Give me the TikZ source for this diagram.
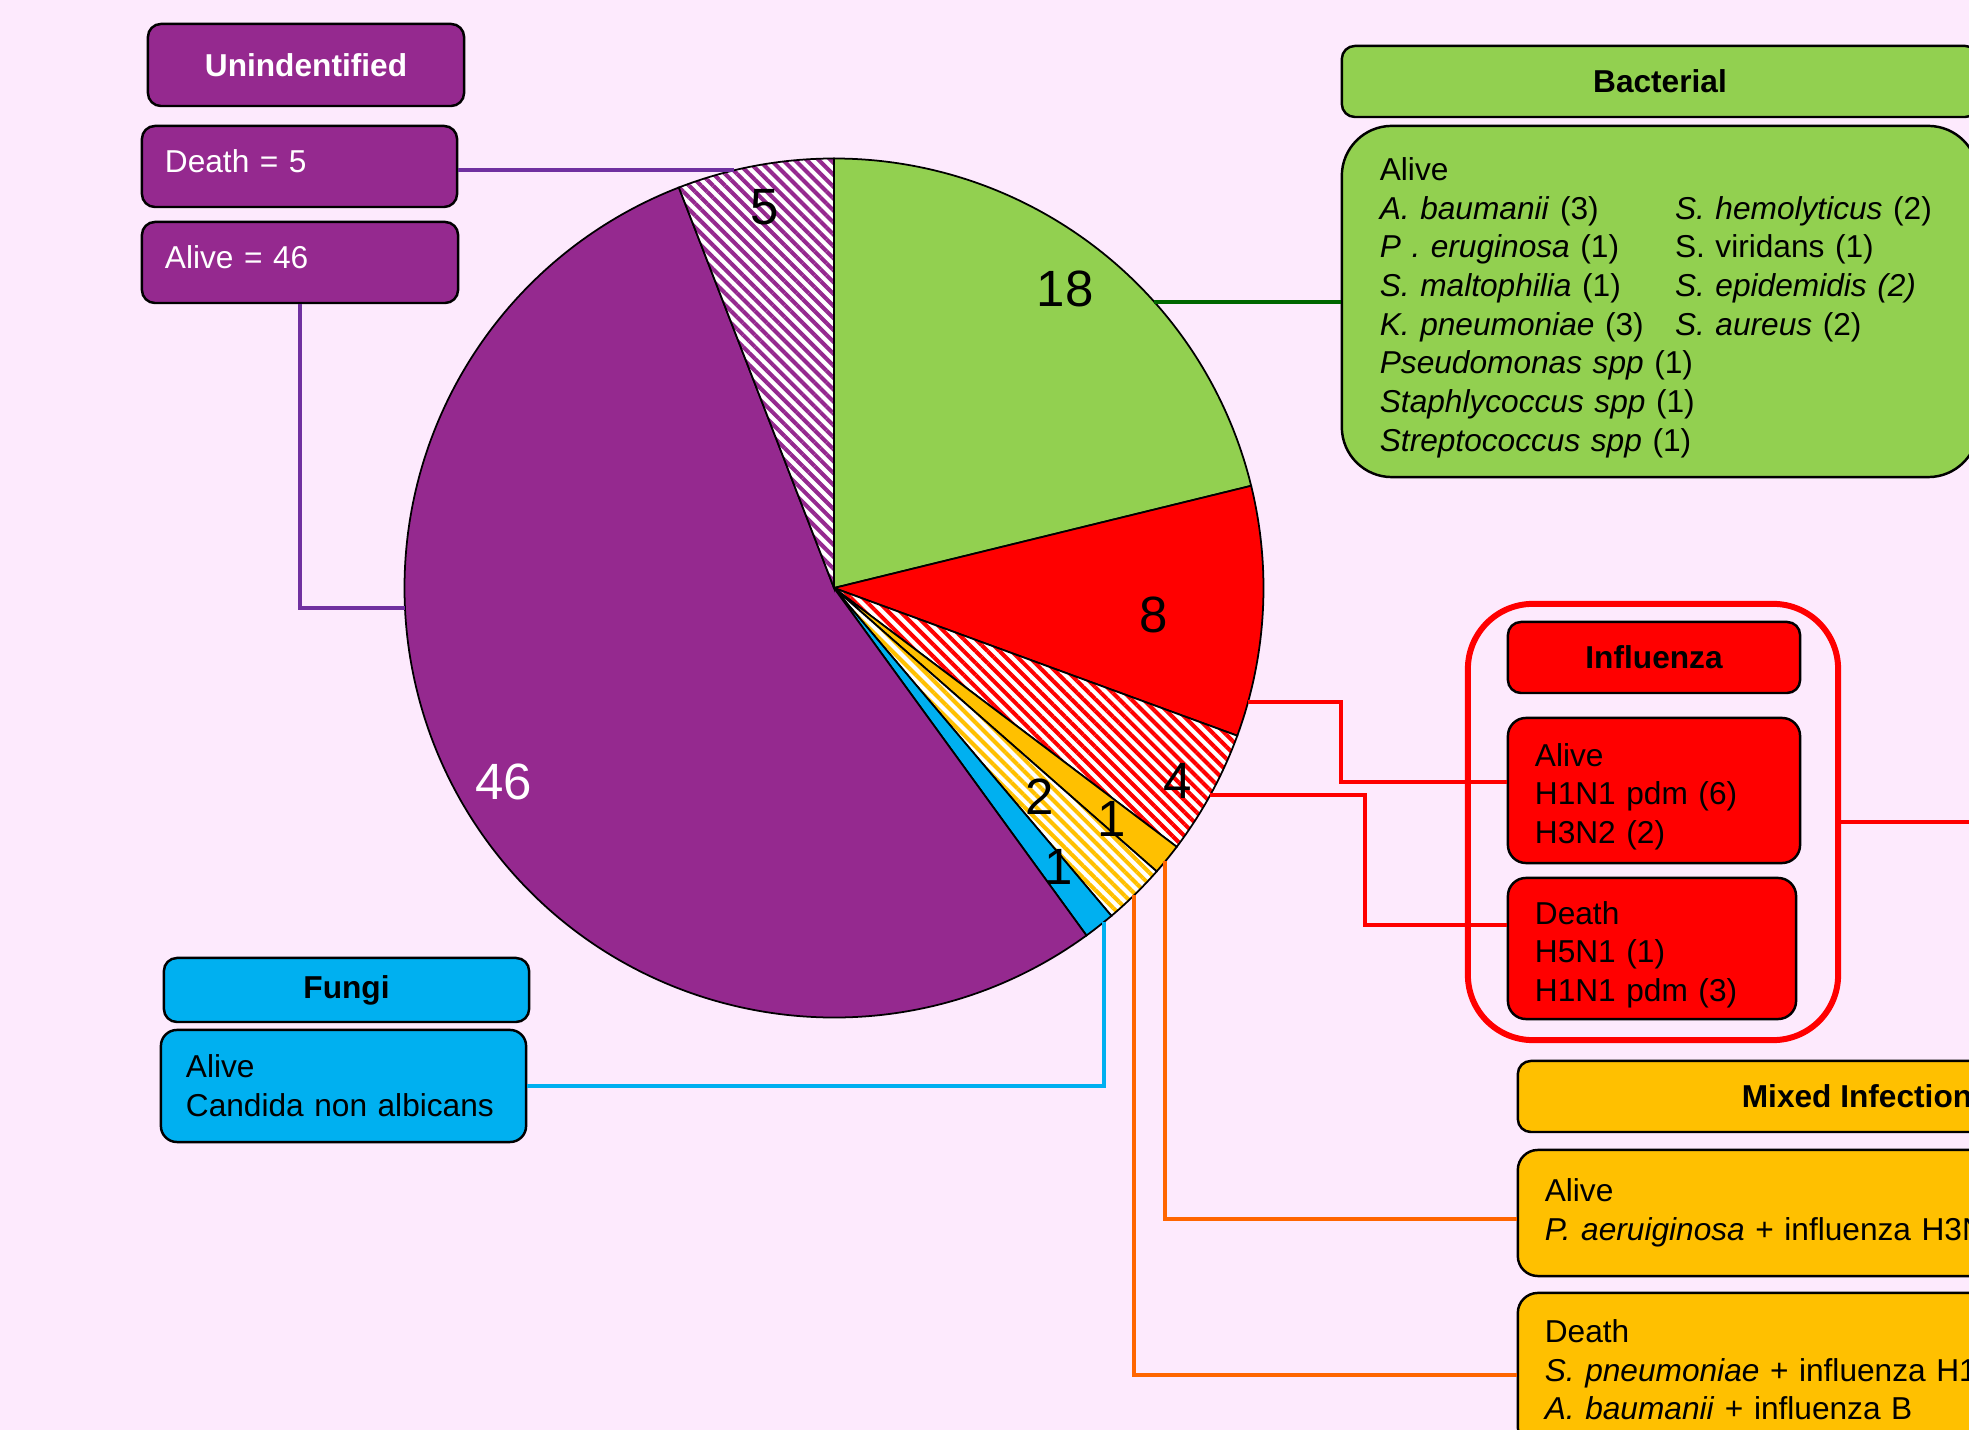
\documentclass[tikz,border=0pt]{standalone}
\usepackage{fontspec}
\setmainfont{Liberation Sans}
\usetikzlibrary{patterns.meta}

\definecolor{bgpink}{RGB}{253,234,253}
\definecolor{unipurple}{RGB}{149,41,143}
\definecolor{bactgreen}{RGB}{146,208,80}
\definecolor{mixorange}{RGB}{255,192,0}
\definecolor{fungiblue}{RGB}{0,176,240}
\definecolor{lnpurple}{RGB}{112,48,160}
\definecolor{lngreen}{RGB}{0,102,0}
\definecolor{lnorange}{RGB}{255,102,0}

\tikzset{
  catbox/.style = {draw=black, line width=0.7pt, rounded corners=1.3mm,
    inner ysep=0pt, font=\fontsize{9}{11}\selectfont},
  titlebox/.style = {catbox, font=\fontsize{9}{11}\selectfont\bfseries,
    align=center},% heading of a group
  textbox/.style = {catbox, align=left},% alive / death lists
  wedge/.style = {draw=black, line width=0.5pt},
  hatch/.style = {wedge, preaction={fill=white},
    pattern={Lines[angle=-45, distance=2.4pt, line width=1.15pt]},
    pattern color=#1},% deaths
  num/.style = {font=\fontsize{14.5}{17}\selectfont},
  link/.style = {line width=1.1pt}
}

% one slice of the pie: start angle, end angle, look
\newcommand{\pieslice}[3]{%
  \path[wedge, #3] (pc) -- ([shift={(#1:429.5)}]pc)
    arc[start angle=#1, end angle=#2, radius=429.5] -- cycle;}
\newcommand{\topstrut}{\rule{0pt}{10pt}}% pushes a list a bit down
\newcommand{\lowstrut}{\rule[-3pt]{0pt}{0pt}}% pushes a line a bit up

\begin{document}
\begin{tikzpicture}[x=0.01cm, y=0.01cm]
\useasboundingbox (0,0) rectangle (1969,1430);
\clip (0,0) rectangle (1969,1430);
\fill[bgpink] (0,0) rectangle (1969,1430);
\coordinate (rightEdge) at (1969,0);

% pie, 85 cases
\coordinate (pc) at (834,842);
\pieslice{90}{13.765}{fill=bactgreen}
\pieslice{13.765}{-20.118}{fill=red}
\pieslice{-20.118}{-37.059}{hatch=red}
\pieslice{-37.059}{-41.294}{fill=mixorange}
\pieslice{-41.294}{-49.765}{hatch=mixorange}
\pieslice{-49.765}{-54}{fill=fungiblue}
\pieslice{-54}{-248.824}{fill=unipurple}
\pieslice{-248.824}{-270}{hatch=unipurple}

\node[num] (n18) at ([shift={(52.3:378)}]pc) {18};
\node[num] (n8) at ([shift={(-4.9:321)}]pc) {8};
\node[num] (n4) at ([shift={(-29.3:394)}]pc) {4};
\node[num] (n1a) at ([shift={(-39.75:361)}]pc) {1};
\node[num] (n2) at ([shift={(-45.3:293)}]pc) {2};
\node[num] (n1b) at ([shift={(-51.1:358)}]pc) {1};
\node[num, text=white] (n46) at ([shift={(210.45:383)}]pc) {46};
\node[num] (n5) at ([shift={(100.3:387)}]pc) {5};

% where the links leave the pie
\coordinate (eDeath) at ([shift={(103.5:429.5)}]pc);
\coordinate (eAlive) at ([shift={(182.7:429.5)}]pc);
\coordinate (eGreen) at ([shift={(41.8:429.5)}]pc);
\coordinate (eFlu1) at ([shift={(-15.36:429.5)}]pc);
\coordinate (eFlu2) at ([shift={(-28.8:429.5)}]pc);
\coordinate (eMix1) at ([shift={(-39.5:429.5)}]pc);
\coordinate (eMix2) at ([shift={(-45.66:429.5)}]pc);
\coordinate (eFungi) at ([shift={(-51.1:429.5)}]pc);

% unidentified
\node[titlebox, fill=unipurple, text=white, minimum width=3.16cm,
  minimum height=0.82cm] (uniTitle) at (306,1365) {Unindentified};
\node[textbox, fill=unipurple, text=white, text width=2.69cm,
  inner xsep=0.23cm, minimum height=0.81cm] (uniDeath) at (299.5,1263.5)
  {Death = 5\lowstrut};
\node[textbox, fill=unipurple, text=white, text width=2.70cm,
  inner xsep=0.23cm, minimum height=0.81cm] (uniAlive) at (300,1167.5)
  {Alive = 46\lowstrut};

% bacterial
\node[titlebox, fill=bactgreen, minimum width=6.36cm,
  minimum height=0.71cm] (bactTitle) at (1660,1348.5) {Bacterial};
\node[textbox, fill=bactgreen, rounded corners=5mm, text width=5.60cm,
  inner xsep=0.38cm, minimum height=3.51cm] (bactBody) at (1660,1128.5)
  {\topstrut Alive\\
   \makebox[2.95cm][l]{\textit{A. baumanii} (3)}\textit{S. hemolyticus} (2)\\
   \makebox[2.95cm][l]{\textit{P . eruginosa} (1)}S. viridans (1)\\
   \makebox[2.95cm][l]{\textit{S. maltophilia} (1)}\textit{S. epidemidis (2)}\\
   \makebox[2.95cm][l]{\textit{K. pneumoniae} (3)}\textit{S. aureus} (2)\\
   \textit{Pseudomonas spp} (1)\\
   \textit{Staphlycoccus spp} (1)\\
   \textit{Streptococcus spp} (1)};

% influenza
\node[draw=red, line width=1.7pt, rounded corners=6.5mm,
  minimum width=3.70cm, minimum height=4.36cm] (fluGroup) at (1653,608) {};
\node[titlebox, fill=red, minimum width=2.92cm,
  minimum height=0.71cm] (fluTitle) at (1654,772.5) {Influenza};
\node[textbox, fill=red, rounded corners=1.8mm, text width=2.38cm,
  inner xsep=0.27cm, minimum height=1.45cm] (fluAlive) at (1654,639.5)
  {\topstrut Alive\\H1N1 pdm (6)\\H3N2 (2)};
\node[textbox, fill=red, rounded corners=1.8mm, text width=2.34cm,
  inner xsep=0.27cm, minimum height=1.41cm] (fluDeath) at (1652,481.5)
  {\topstrut Death\\H5N1 (1)\\H1N1 pdm (3)};

% fungi
\node[titlebox, fill=fungiblue, minimum width=3.65cm,
  minimum height=0.64cm] (fungiTitle) at (346.5,440) {Fungi};
\node[textbox, fill=fungiblue, rounded corners=1.6mm, text width=3.15cm,
  inner xsep=0.25cm, minimum height=1.12cm] (fungiBody) at (343.5,344)
  {Alive\\Candida non albicans};

% mixed
\node[titlebox, fill=mixorange, minimum width=6.78cm,
  minimum height=0.71cm] (mixTitle) at (1857,333.5) {Mixed Infection};
\node[textbox, fill=mixorange, rounded corners=2mm, text width=6.24cm,
  inner xsep=0.27cm, minimum height=1.26cm] (mixAlive) at (1857,217)
  {Alive\\\textit{P. aeruiginosa} + influenza H3N};
\node[textbox, fill=mixorange, rounded corners=2mm, text width=6.24cm,
  inner xsep=0.27cm, minimum height=1.54cm] (mixDeath) at (1857,60)
  {Death\\\textit{S. pneumoniae} + influenza H1\\\textit{A. baumanii} + influenza B};

% links
\draw[link, lnpurple] (eDeath) -- (eDeath -| uniDeath.east);
\draw[link, lnpurple] (uniAlive.south) |- (eAlive);
\draw[link, lngreen] (eGreen) -- (eGreen -| bactBody.west);
\draw[link, red] (eFlu1) -- ++(93,0) |- ([yshift=0.85mm]fluAlive.west);
\draw[link, red] (eFlu2) -- ++(155,0) |- ([yshift=2.35mm]fluDeath.west);
\draw[link, red] (fluGroup.east) -- (fluGroup.east -| rightEdge);
\draw[link, fungiblue] (fungiBody.east) -| (eFungi);
\draw[link, lnorange] (eMix1) |- ([yshift=-0.6mm]mixAlive.west);
\draw[link, lnorange] (eMix2) |- ([yshift=-0.5mm]mixDeath.west);
\end{tikzpicture}
\end{document}
